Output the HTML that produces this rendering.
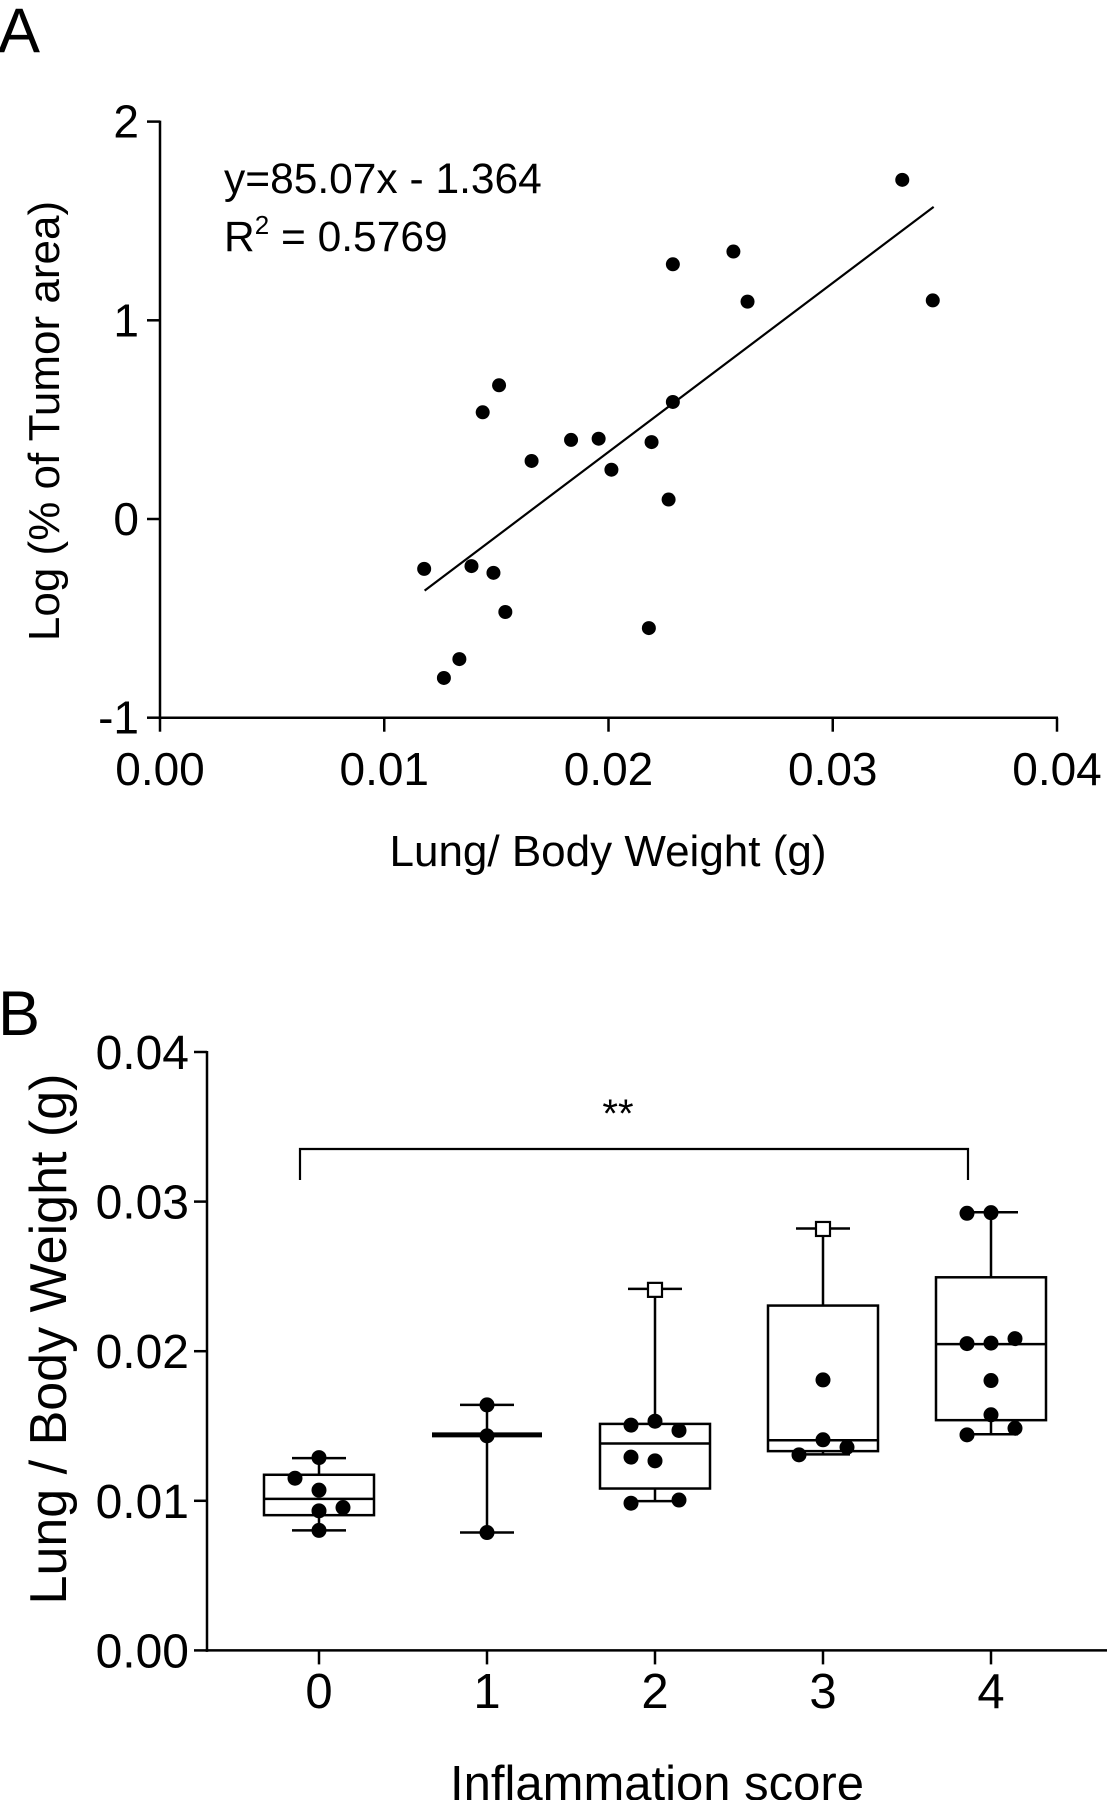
<!DOCTYPE html>
<html><head><meta charset="utf-8"><style>
html,body{margin:0;padding:0;background:#fff;}
svg{display:block;}
text{font-family:"Liberation Sans",Arial,sans-serif;fill:#000;}
</style></head><body>
<svg id="fig" width="1107" height="1800" viewBox="0 0 1107 1800" xmlns="http://www.w3.org/2000/svg">
<g id="panelA"></g>
<g id="panelB"></g>
</svg>
<script>
// Panel A data
const aX = [0.01178,0.01266,0.01335,0.01389,0.01439,0.01487,0.01512,0.0154,0.01657,0.01833,0.01956,0.02013,0.0218,0.02192,0.02268,0.02287,0.02287,0.02557,0.0262,0.0331,0.03446];
const aY = [-0.251,-0.80,-0.705,-0.237,0.537,-0.271,0.673,-0.468,0.292,0.398,0.404,0.248,-0.549,0.387,0.098,1.282,0.589,1.346,1.094,1.707,1.10];
const aSlope = 85.07, aIntercept = -1.364;
const aFitRange = [0.0118, 0.0345];
const aXTicks = [0, 0.01, 0.02, 0.03, 0.04];
const aXTickLabels = ["0.00","0.01","0.02","0.03","0.04"];
const aYTicks = [-1, 0, 1, 2];
const aYTickLabels = ["-1","0","1","2"];
// Panel B data
const bCats = ["0","1","2","3","4"];
const bQ1 = [0.00904,0.01441,0.01082,0.01332,0.01539];
const bMed = [0.01013,0.01441,0.01383,0.01405,0.02047];
const bQ3 = [0.01174,0.01441,0.01514,0.02305,0.02494];
const bWlo = [0.00802,0.00788,0.00998,0.0131,0.01445];
const bWhi = [0.01285,0.01641,0.02417,0.0282,0.02929];
const bPtsCat = [0,0,0,0,0,0, 1,1,1, 2,2,2,2,2,2,2, 3,3,3,3, 4,4,4,4,4,4,4,4,4];
const bPtsOff = [-1,0,0,1,0,0, 0,0,0, -1,0,1,-1,0,-1,1, 0,0,-1,1, -1,0,-1,0,1,0,0,-1,1];
const bPtsVal = [0.01151,0.01071,0.00933,0.00955,0.01289,0.00802, 0.01641,0.01434,0.00788, 0.01506,0.01532,0.0147,0.01292,0.01267,0.00984,0.01005, 0.01808,0.01408,0.01307,0.01358, 0.02922,0.02926,0.02051,0.02054,0.02084,0.01804,0.01575,0.01441,0.01485];
const bOutCat = [2,3];
const bOutVal = [0.0241,0.02817];
const bYTicks = [0,0.01,0.02,0.03,0.04];
const bYTickLabels = ["0.00","0.01","0.02","0.03","0.04"];

const NS="http://www.w3.org/2000/svg";
function mk(parent, tag, attrs, txt){const e=document.createElementNS(NS,tag);for(const k in attrs)e.setAttribute(k,attrs[k]);if(txt!==undefined)e.textContent=txt;parent.appendChild(e);return e;}

// ---- Panel A ----
const A=document.getElementById('panelA');
const ax=v=>160+v*22425, ay=v=>519-v*198.7;
let e;
e=mk(A,'text',{x:-2,y:52,'font-size':63},'A');


e=mk(A,'line',{x1:160,y1:ay(2)-1,x2:160,y2:ay(-1)+1.5,stroke:'#000','stroke-width':2.5});


e=mk(A,'line',{x1:158.5,y1:ay(-1),x2:ax(0.04)+1,y2:ay(-1),stroke:'#000','stroke-width':2.5});


aYTicks.forEach((t,i)=>{
  e=mk(A,'line',{x1:147,y1:ay(t),x2:160,y2:ay(t),stroke:'#000','stroke-width':2.5});
  
  
  e=mk(A,'text',{x:139,y:ay(t)+16,'font-size':46,'text-anchor':'end'},aYTickLabels[i]);
  
  
});
aXTicks.forEach((t,i)=>{
  e=mk(A,'line',{x1:ax(t),y1:ay(-1),x2:ax(t),y2:ay(-1)+14,stroke:'#000','stroke-width':2.5});
  
  
  e=mk(A,'text',{x:ax(t),y:785,'font-size':46,'text-anchor':'middle'},aXTickLabels[i]);
  
  
});
e=mk(A,'text',{x:608,y:866,'font-size':44,'text-anchor':'middle'},'Lung/ Body Weight (g)');


e=mk(A,'text',{x:0,y:0,'font-size':44,'text-anchor':'middle',transform:'translate(59,421) rotate(-90)'},'Log (% of Tumor area)');


e=mk(A,'text',{x:224,y:193,'font-size':42.5},'y=85.07x - 1.364');


e=mk(A,'text',{x:224,y:251,'font-size':42.5},'');


mk(e,'tspan',{},'R');mk(e,'tspan',{'font-size':26,dy:-17},'2');mk(e,'tspan',{dy:17},' = 0.5769');
e=mk(A,'line',{x1:ax(aFitRange[0]),y1:ay(aSlope*aFitRange[0]+aIntercept),x2:ax(aFitRange[1]),y2:ay(aSlope*aFitRange[1]+aIntercept),stroke:'#000','stroke-width':2.2});


aX.forEach((v,i)=>{
  e=mk(A,'circle',{cx:ax(v),cy:ay(aY[i]),r:7,fill:'#000'});
  
  
});

// ---- Panel B ----
const B=document.getElementById('panelB');
const bx=i=>319+i*168, by=v=>1650.4-v*14960;
e=mk(B,'text',{x:-2,y:1035,'font-size':63},'B');


e=mk(B,'line',{x1:207,y1:by(0.04)-1,x2:207,y2:by(0)+1.5,stroke:'#000','stroke-width':2.5});


e=mk(B,'line',{x1:205.5,y1:by(0),x2:1107,y2:by(0),stroke:'#000','stroke-width':2.5});


bYTicks.forEach((t,i)=>{
  e=mk(B,'line',{x1:194,y1:by(t),x2:207,y2:by(t),stroke:'#000','stroke-width':2.5});
  
  
  e=mk(B,'text',{x:189,y:by(t)+17,'font-size':48,'text-anchor':'end'},bYTickLabels[i]);
  
  
});
bCats.forEach((c,i)=>{
  e=mk(B,'line',{x1:bx(i),y1:by(0),x2:bx(i),y2:by(0)+14,stroke:'#000','stroke-width':2.5});
  
  
  e=mk(B,'text',{x:bx(i),y:1708,'font-size':49,'text-anchor':'middle'},c);
  
  
});
e=mk(B,'text',{x:657,y:1800,'font-size':49,'text-anchor':'middle'},'Inflammation score');


e=mk(B,'text',{x:0,y:0,'font-size':52,'text-anchor':'middle',transform:'translate(66,1339) rotate(-90)'},'Lung / Body Weight (g)');


e=mk(B,'path',{d:'M300 1180 V1149 H968 V1180',fill:'none',stroke:'#000','stroke-width':2.2});


e=mk(B,'text',{x:618,y:1127,'font-size':40,'text-anchor':'middle'},'**');


bCats.forEach((c,i)=>{
  const cx=bx(i), hw=55;
  e=mk(B,'line',{x1:cx,y1:by(bWlo[i]),x2:cx,y2:by(bWhi[i]),stroke:'#000','stroke-width':2.5});
  
  
  e=mk(B,'line',{x1:cx-27,y1:by(bWhi[i]),x2:cx+27,y2:by(bWhi[i]),stroke:'#000','stroke-width':2.5});
  
  
  e=mk(B,'line',{x1:cx-27,y1:by(bWlo[i]),x2:cx+27,y2:by(bWlo[i]),stroke:'#000','stroke-width':2.5});
  
  
  const h=by(bQ1[i])-by(bQ3[i]);
  if(h>1){
    e=mk(B,'rect',{x:cx-hw,y:by(bQ3[i]),width:hw*2,height:h,fill:'#fff',stroke:'#000','stroke-width':2.5});
    
    
  }
  e=mk(B,'line',{x1:cx-hw,y1:by(bMed[i]),x2:cx+hw,y2:by(bMed[i]),stroke:'#000','stroke-width':h>1?2.5:5});
  
  
});
bPtsVal.forEach((v,i)=>{
  e=mk(B,'circle',{cx:bx(bPtsCat[i])+bPtsOff[i]*24,cy:by(v),r:7.5,fill:'#000'});
  
  
});
bOutVal.forEach((v,i)=>{
  e=mk(B,'rect',{x:bx(bOutCat[i])-7,y:by(v)-7,width:14,height:14,fill:'#fff',stroke:'#000','stroke-width':2.2});
  
  
});
</script>
</body></html>
